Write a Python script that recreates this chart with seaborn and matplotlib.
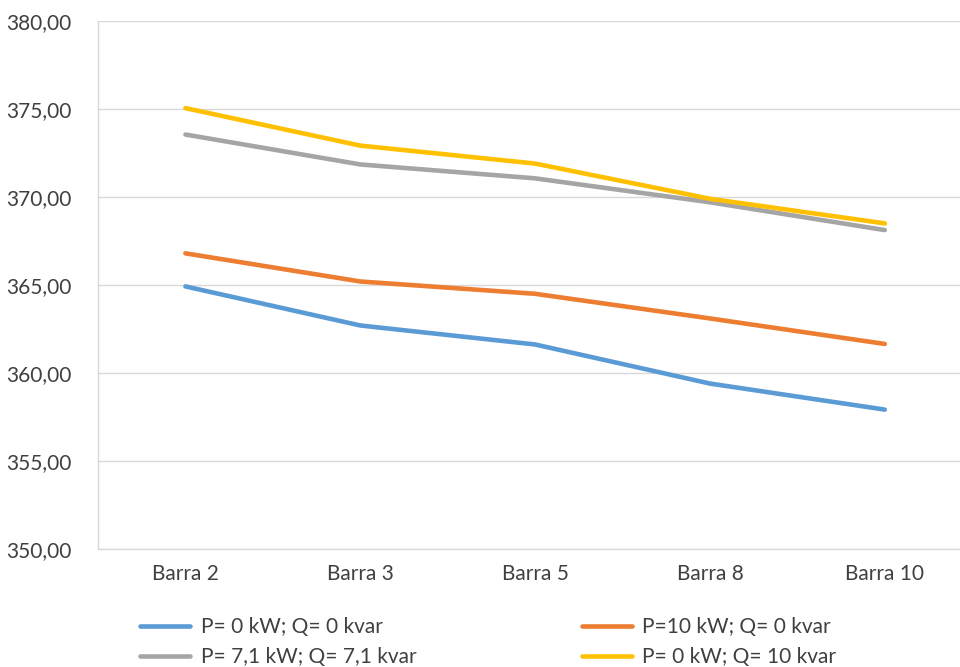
import matplotlib
matplotlib.use("Agg")
import matplotlib.pyplot as plt
from matplotlib.ticker import FuncFormatter
import seaborn as sns
import pandas as pd

barras = ["Barra 2", "Barra 3", "Barra 5", "Barra 8", "Barra 10"]
series_names = [
    "P= 0 kW; Q= 0 kvar",
    "P=10 kW; Q= 0 kvar",
    "P= 7,1 kW; Q= 7,1 kvar",
    "P= 0 kW; Q= 10 kvar",
]
v_p0_q0 = [364.92, 362.70, 361.62, 359.40, 357.92]
v_p10_q0 = [366.80, 365.20, 364.50, 363.10, 361.65]
v_p71_q71 = [373.55, 371.85, 371.06, 369.70, 368.12]
v_p0_q10 = [375.05, 372.92, 371.90, 369.90, 368.50]
colors = ["#5B9BD5", "#ED7D31", "#A5A5A5", "#FFC000"]

rows = []
for name, vals in zip(series_names, [v_p0_q0, v_p10_q0, v_p71_q71, v_p0_q10]):
    for i, (b, v) in enumerate(zip(barras, vals)):
        rows.append({"pos": i, "barra": b, "serie": name, "tensao": v})
df = pd.DataFrame(rows)

sns.set_theme(style="white")
plt.rcParams["font.family"] = ["Lato", "DejaVu Sans"]

fig = plt.figure(figsize=(9.6, 6.67), dpi=100)
ax = fig.add_axes([98 / 960, 1 - 549 / 667, (960 - 98) / 960, (549 - 21) / 667])

sns.lineplot(
    data=df, x="pos", y="tensao", hue="serie", hue_order=series_names,
    palette=colors, linewidth=3.3, ax=ax, legend=False, sort=False,
    solid_capstyle="round",
)

ax.set_ylim(350, 380)
ax.set_yticks(range(350, 381, 5))
ax.yaxis.set_major_formatter(FuncFormatter(lambda v, p: f"{v:.2f}".replace(".", ",")))
ax.set_xlim(-0.5, 4.43)
ax.set_xticks(range(len(barras)))
ax.set_xticklabels(barras)
ax.set_xlabel("")
ax.set_ylabel("")
ax.tick_params(axis="both", labelsize=15, colors="#404040", length=0)
ax.tick_params(axis="x", pad=11)
ax.tick_params(axis="y", pad=19)

ax.grid(axis="y", color="#D9D9D9", linewidth=1)
ax.set_axisbelow(True)
for s in ["top", "right"]:
    ax.spines[s].set_visible(False)
ax.spines["left"].set_color("#D9D9D9")
ax.spines["left"].set_linewidth(1)
ax.spines["bottom"].set_color("#D9D9D9")
ax.spines["bottom"].set_linewidth(1)

# legend fills column-wise: order so rows read blue/orange, gray/yellow
order = [0, 2, 1, 3]
handles = [plt.Line2D([0], [0], color=colors[i], linewidth=3.3, solid_capstyle="round") for i in order]
labels = [series_names[i] for i in order]
leg = fig.legend(
    handles, labels, ncol=2, loc="lower left",
    bbox_to_anchor=(130 / 960, -0.016), frameon=False, fontsize=15,
    handlelength=2.4, handletextpad=0.5, columnspacing=7.95,
    labelspacing=0.5, borderaxespad=0.1,
)
for t in leg.get_texts():
    t.set_color("#404040")

fig.savefig("out.png", dpi=100, facecolor="white")
